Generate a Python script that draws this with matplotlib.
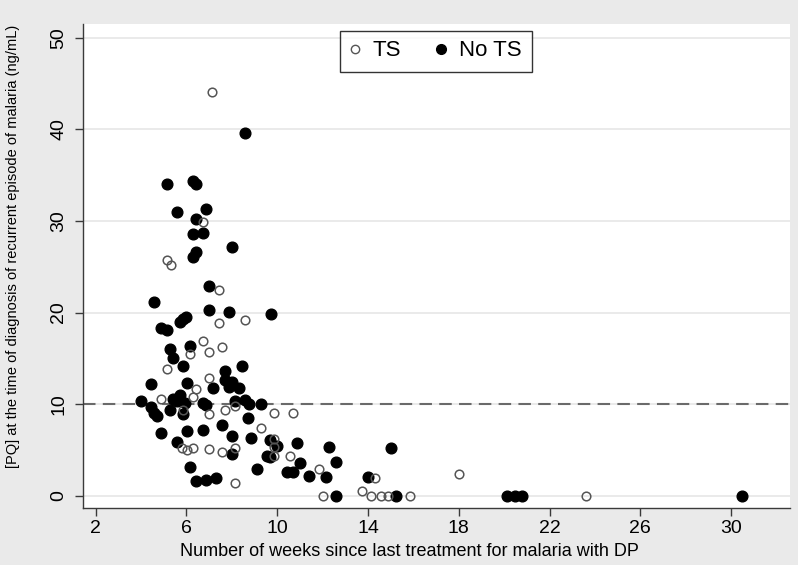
import matplotlib.pyplot as plt
from matplotlib.lines import Line2D

plt.rcParams['font.family'] = ['Liberation Sans', 'DejaVu Sans']

# --- Data ---
ts_weeks = [7.14, 6.72, 5.14, 5.30, 7.42, 8.57, 7.42, 6.72, 7.57, 7.00,
            6.16, 5.14, 7.00, 6.42, 6.27, 4.86, 8.14, 7.71, 9.86, 10.71,
            5.86, 7.00, 9.29, 5.80, 6.01, 6.27, 7.00, 7.57, 8.14, 9.84,
            9.84, 9.84, 10.56, 11.86, 8.14, 12.00, 13.72, 14.30, 14.15, 14.57,
            14.90, 15.86, 18.01, 23.62]
ts_pq = [44.1, 29.9, 25.7, 25.2, 22.5, 19.2, 18.9, 16.9, 16.2, 15.7,
         15.5, 13.8, 12.8, 11.7, 10.8, 10.6, 9.8, 9.4, 9.05, 9.05,
         9.36, 8.9, 7.36, 5.25, 4.99, 5.17, 5.1, 4.8, 5.17, 6.15,
         5.3, 4.33, 4.33, 2.9, 1.4, 0.0, 0.53, 1.9, 0.0, 0.0,
         0.0, 0.0, 2.36, 0.0]

nots_weeks = [8.57, 5.14, 6.29, 6.43, 5.57, 6.85, 6.42, 6.27, 6.72, 8.00,
              6.42, 6.27, 7.00, 4.57, 7.00, 7.86, 9.73, 6.00, 5.86, 5.72,
              4.86, 5.16, 5.27, 5.42, 6.16, 5.86, 8.45, 7.71, 7.71, 8.01,
              7.86, 8.30, 4.42, 6.01, 7.16, 3.98, 5.42, 5.72, 5.57, 5.94,
              6.72, 6.86, 8.14, 8.58, 8.74, 9.29, 4.42, 4.57, 4.71, 5.27,
              5.86, 7.57, 8.73, 6.01, 6.72, 4.86, 8.00, 8.86, 5.57, 8.00,
              9.68, 10.00, 10.86, 12.27, 15.00, 9.55, 9.70, 11.00, 12.57, 6.16,
              9.13, 10.42, 10.71, 11.41, 12.15, 14.00, 6.42, 6.86, 7.28, 12.57,
              15.23, 20.14, 20.46, 20.79, 30.50]
nots_pq = [39.6, 34.0, 34.4, 34.0, 31.0, 31.3, 30.2, 28.6, 28.7, 27.2,
           26.6, 26.1, 22.9, 21.1, 20.3, 20.1, 19.8, 19.5, 19.3, 19.0,
           18.3, 18.1, 16.0, 15.0, 16.3, 14.2, 14.2, 13.6, 12.6, 12.4,
           11.9, 11.8, 12.2, 12.3, 11.8, 10.3, 10.6, 10.96, 10.3, 10.1,
           10.1, 9.9, 10.3, 10.4, 10.0, 10.0, 9.65, 9.06, 8.7, 9.4,
           8.9, 7.7, 8.5, 7.1, 7.17, 6.8, 6.5, 6.28, 5.9, 4.6,
           6.05, 5.48, 5.8, 5.37, 5.25, 4.33, 4.26, 3.62, 3.67, 3.1,
           2.9, 2.62, 2.62, 2.16, 2.07, 2.07, 1.57, 1.76, 1.97, 0.0,
           0.0, 0.0, 0.0, 0.0, 0.0]

x_ticks = [2, 6, 10, 14, 18, 22, 26, 30]
y_ticks = [0, 10, 20, 30, 40, 50]
threshold = 10

BG = '#EAEAEA'
AXIS_COLOR = '#3A3A3A'
OPEN_COLOR = '#555555'

fig = plt.figure(figsize=(7.98, 5.65), dpi=100, facecolor=BG)
ax = fig.add_axes([0.1044, 0.1009, 0.8856, 0.8566])
ax.set_facecolor('white')

for y in y_ticks:
    ax.axhline(y, color='#E4E4E4', lw=1.1, zorder=0)
ax.axhline(threshold, color='#6A6A6A', lw=1.5, dashes=(6, 3.5), zorder=1)

# filled first, hollow rings on top
ax.plot(nots_weeks, nots_pq, 'o', ms=7.7, color='black', mec='black', zorder=3)
ax.plot(ts_weeks, ts_pq, 'o', ms=6.2, mfc='none', mec=OPEN_COLOR, mew=1.1, zorder=4)

ax.set_xlim(1.454, 32.6)
ax.set_ylim(-1.34, 51.5)
ax.set_xticks(x_ticks)
ax.set_yticks(y_ticks)

for side in ['top', 'right']:
    ax.spines[side].set_visible(False)
for side in ['left', 'bottom']:
    ax.spines[side].set_color(AXIS_COLOR)
    ax.spines[side].set_linewidth(1.0)

ax.tick_params(axis='both', direction='out', length=5.5, width=1.0,
               color=AXIS_COLOR, labelsize=14, labelcolor='black')
ax.tick_params(axis='x', pad=3)
ax.tick_params(axis='y', pad=6)
for lab in ax.get_yticklabels():
    lab.set_rotation(90)
    lab.set_va('center')

ax.set_xlabel('Number of weeks since last treatment for malaria with DP', fontsize=13)
ax.xaxis.set_label_coords(0.4616, -0.072)
ax.set_ylabel('[PQ] at the time of diagnosis of recurrent episode of malaria (ng/mL)',
              fontsize=10.5)
ax.yaxis.set_label_coords(-0.09, 0.54)

handles = [
    Line2D([], [], ls='none', marker='o', ms=6, mfc='none', mec=OPEN_COLOR, mew=1.0),
    Line2D([], [], ls='none', marker='o', ms=7, color='black'),
]
leg = ax.legend(handles, ['TS', 'No TS'], ncol=2, loc='center',
                bbox_to_anchor=(436 / 798, 1 - 51 / 565), bbox_transform=fig.transFigure,
                fontsize=16, frameon=True, fancybox=False, handlelength=0.4,
                handletextpad=0.6, columnspacing=1.6, borderpad=0.45)
leg.get_frame().set_edgecolor('black')
leg.get_frame().set_linewidth(1.0)

fig.savefig('out.png', dpi=100, facecolor=BG)
